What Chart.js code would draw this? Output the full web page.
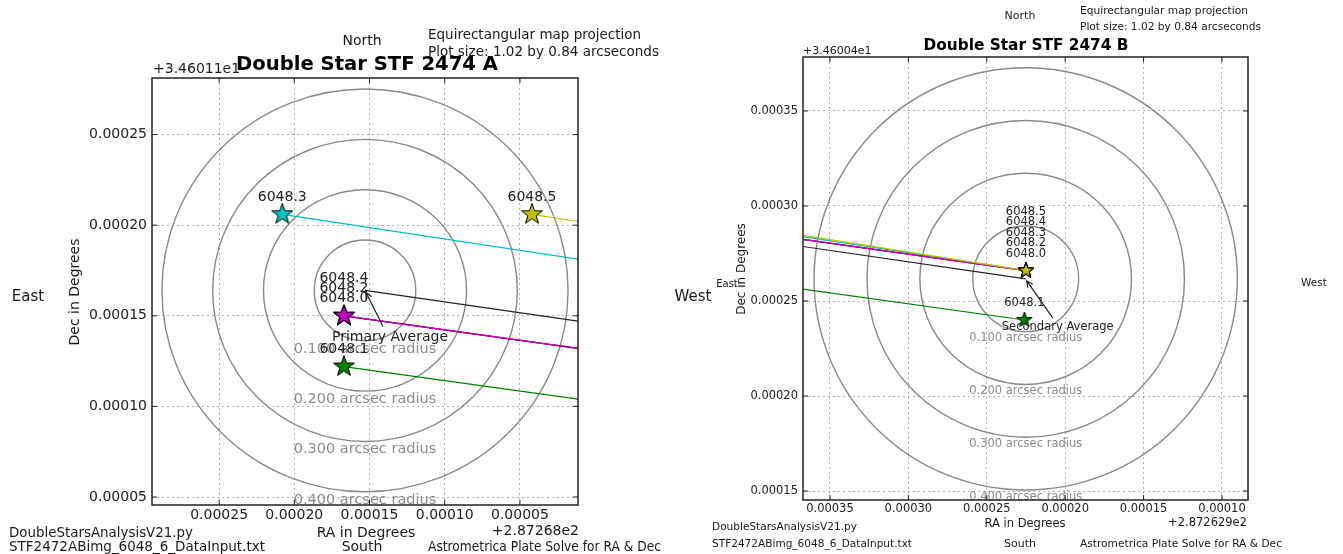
<!DOCTYPE html>
<html>
<head>
<meta charset="utf-8">
<title>Double Star STF 2474 A / B</title>
<script src="https://cdn.jsdelivr.net/npm/chart.js@4.4.0/dist/chart.umd.min.js"></script>
<style>
    html, body { margin: 0; padding: 0; background: #fff; }
    .stage { position: relative; width: 1343px; height: 554px; overflow: hidden; }
    .stage canvas { position: absolute; left: 0; top: 0; }
</style>
</head>
<body>
<div class="stage">
    <canvas id="chart-a" width="1343" height="554"></canvas>
    <canvas id="chart-b" width="1343" height="554"></canvas>
</div>
<script>
// Star measurements (one per image)
const starNames = ['6048.0', '6048.1', '6048.2', '6048.3', '6048.4', '6048.5'];

// Primary (A) positions, offsets from +2.87268e2 / +3.46011e1 degrees
const primaryRA = [0.000167, 0.000167, 0.000167, 0.000208, 0.000167, 0.000042];
const primaryDec = [0.000150, 0.000122, 0.000150, 0.000206, 0.000150, 0.000206];

// Secondary (B) positions, offsets from +2.872629e2 / +3.46004e1 degrees
const secondaryRA = [0.000225, 0.000226, 0.000225, 0.000225, 0.000225, 0.000225];
const secondaryDec = [0.000266, 0.000240, 0.000266, 0.000266, 0.000266, 0.000266];

// Axis offsets [A, B]
const raOffsets = [287.268, 287.2629];
const decOffsets = [34.6011, 34.6004];

// Rings around the averages, arcseconds
const radiiArcsec = [0.1, 0.2, 0.3, 0.4];

// Axis ranges and ticks
const raRangeA = [0.0000114, 0.0002946];
const decRangeA = [0.0000456, 0.0002812];
const raRangeB = [0.0000834, 0.0003672];
const decRangeB = [0.0001453, 0.0003784];
const raTicksA = [0.00025, 0.00020, 0.00015, 0.00010, 0.00005];
const decTicksA = [0.00005, 0.00010, 0.00015, 0.00020, 0.00025];
const raTicksB = [0.00035, 0.00030, 0.00025, 0.00020, 0.00015, 0.00010];
const decTicksB = [0.00015, 0.00020, 0.00025, 0.00030, 0.00035];

// Styles
const starColors = ['#0000ff', '#008000', '#ff0000', '#00bfbf', '#bf00bf', '#bfbf00'];
const FONT = '"DejaVu Sans", sans-serif';
const TEXT = '#1a1a1a';

Chart.defaults.font.family = FONT;

// Helpers
function mean(arr) {
    return arr.reduce((a, b) => a + b, 0) / arr.length;
}

function starImage(color, r) {
    const c = document.createElement('canvas');
    const s = Math.ceil(r * 2 + 4);
    c.width = s;
    c.height = s;
    const g = c.getContext('2d');
    g.beginPath();
    for (let i = 0; i < 10; i++) {
        const ang = -Math.PI / 2 + i * Math.PI / 5;
        const rr = i % 2 ? r * 0.4 : r;
        g.lineTo(s / 2 + rr * Math.cos(ang), s / 2 + rr * Math.sin(ang));
    }
    g.closePath();
    g.fillStyle = color;
    g.fill();
    g.lineWidth = 1;
    g.strokeStyle = '#000';
    g.stroke();
    return c;
}

function drawText(ctx, t) {
    ctx.save();
    ctx.font = t.font + ' ' + FONT;
    ctx.fillStyle = t.color || TEXT;
    ctx.textAlign = t.align || 'left';
    ctx.textBaseline = t.baseline || 'middle';
    ctx.translate(t.x, t.y);
    if (t.rotate) ctx.rotate(-Math.PI / 2);
    if (t.width) ctx.fillText(t.text, 0, 0, t.width);
    else ctx.fillText(t.text, 0, 0);
    ctx.restore();
}

function drawArrow(ctx, x1, y1, x2, y2) {
    const ang = Math.atan2(y2 - y1, x2 - x1);
    const head = 7;
    ctx.save();
    ctx.strokeStyle = '#222';
    ctx.lineWidth = 1.2;
    ctx.beginPath();
    ctx.moveTo(x1, y1);
    ctx.lineTo(x2, y2);
    ctx.moveTo(x2 - head * Math.cos(ang - 0.45), y2 - head * Math.sin(ang - 0.45));
    ctx.lineTo(x2, y2);
    ctx.lineTo(x2 - head * Math.cos(ang + 0.45), y2 - head * Math.sin(ang + 0.45));
    ctx.stroke();
    ctx.restore();
}

// Panel setup
const panels = [
    {
        id: 'chart-a',
        ra: primaryRA,
        dec: primaryDec,
        otherRA: secondaryRA.map(v => v + raOffsets[1] - raOffsets[0]),
        otherDec: secondaryDec.map(v => v + decOffsets[1] - decOffsets[0]),
        raRange: raRangeA,
        decRange: decRangeA,
        raTicks: raTicksA,
        decTicks: decTicksA,
        decBase: decOffsets[0],
        area: { left: 152, top: 78, right: 578, bottom: 505 },
        tickSize: 14,
        labelSize: 14,
        ringSize: 14.5,
        starR: 11,
        lift: 17,
        step: 10,
        avgText: 'Primary Average',
        avgOffset: [25, 47],
        avgFrom: [-7, -11],
        avgFont: '14px',
        texts: [
            { text: 'North', x: 362, y: 41, font: '14px', align: 'center' },
            { text: 'Equirectangular map projection', x: 428, y: 35, font: '14px', width: 213 },
            { text: 'Plot size: 1.02 by 0.84 arcseconds', x: 428, y: 52, font: '14px', width: 231 },
            { text: '+3.46011e1', x: 153, y: 69, font: '14px' },
            { text: 'Double Star STF 2474 A', x: 367, y: 65, font: 'bold 20px', align: 'center', width: 262, color: '#000' },
            { text: 'East', x: 28, y: 297, font: '15px', align: 'center' },
            { text: 'West', x: 693, y: 297, font: '15px', align: 'center' },
            { text: 'Dec in Degrees', x: 75, y: 292, font: '14px', align: 'center', rotate: true },
            { text: 'RA in Degrees', x: 366, y: 533, font: '14px', align: 'center' },
            { text: '+2.87268e2', x: 579, y: 531, font: '14px', align: 'right' },
            { text: 'DoubleStarsAnalysisV21.py', x: 9, y: 533, font: '14px', width: 184 },
            { text: 'STF2472ABimg_6048_6_DataInput.txt', x: 9, y: 547, font: '14px', width: 256 },
            { text: 'South', x: 362, y: 547, font: '14px', align: 'center' },
            { text: 'Astrometrica Plate Solve for RA & Dec', x: 428, y: 547, font: '14px', width: 233 }
        ]
    },
    {
        id: 'chart-b',
        ra: secondaryRA,
        dec: secondaryDec,
        otherRA: primaryRA.map(v => v + raOffsets[0] - raOffsets[1]),
        otherDec: primaryDec.map(v => v + decOffsets[0] - decOffsets[1]),
        raRange: raRangeB,
        decRange: decRangeB,
        raTicks: raTicksB,
        decTicks: decTicksB,
        decBase: decOffsets[1],
        area: { left: 803, top: 57, right: 1248, bottom: 500 },
        tickSize: 11.5,
        labelSize: 11.5,
        ringSize: 11.5,
        starR: 8,
        lift: 17,
        step: 10.5,
        avgText: 'Secondary Average',
        avgOffset: [32, 48],
        avgFrom: [-5, -9],
        avgFont: '11.5px',
        texts: [
            { text: 'North', x: 1020, y: 16, font: '11px', align: 'center' },
            { text: 'Equirectangular map projection', x: 1080, y: 11, font: '11px', width: 168 },
            { text: 'Plot size: 1.02 by 0.84 arcseconds', x: 1080, y: 27, font: '11px', width: 181 },
            { text: '+3.46004e1', x: 803, y: 51, font: '11px', width: 70 },
            { text: 'Double Star STF 2474 B', x: 1026, y: 46, font: 'bold 15.5px', align: 'center', width: 205, color: '#000' },
            { text: 'East', x: 727, y: 284, font: '10px', align: 'center' },
            { text: 'West', x: 1314, y: 283, font: '10.5px', align: 'center' },
            { text: 'Dec in Degrees', x: 742, y: 269, font: '12px', align: 'center', rotate: true },
            { text: 'RA in Degrees', x: 1025, y: 524, font: '11.5px', align: 'center' },
            { text: '+2.872629e2', x: 1247, y: 523, font: '11.5px', align: 'right' },
            { text: 'DoubleStarsAnalysisV21.py', x: 712, y: 527, font: '11px', width: 145 },
            { text: 'STF2472ABimg_6048_6_DataInput.txt', x: 712, y: 544, font: '11px', width: 200 },
            { text: 'South', x: 1020, y: 544, font: '11px', align: 'center' },
            { text: 'Astrometrica Plate Solve for RA & Dec', x: 1080, y: 544, font: '11px', width: 202 }
        ]
    }
];

// Overlay plugin: rings, star labels, average arrow, frame and page texts
function makeOverlay(p) {
    const avgRA = mean(p.ra);
    const avgDec = mean(p.dec);
    const cosDec = Math.cos(p.decBase * Math.PI / 180);

    return {
        id: 'overlay-' + p.id,
        beforeDatasetsDraw(chart) {
            const { ctx, chartArea, scales: { x, y } } = chart;
            const cx = x.getPixelForValue(avgRA);
            const cy = y.getPixelForValue(avgDec);
            ctx.save();
            ctx.beginPath();
            ctx.rect(chartArea.left, chartArea.top, chartArea.right - chartArea.left, chartArea.bottom - chartArea.top);
            ctx.clip();
            radiiArcsec.forEach(r => {
                const deg = r / 3600;
                const rx = Math.abs(x.getPixelForValue(avgRA + deg / cosDec) - cx);
                const ry = Math.abs(y.getPixelForValue(avgDec - deg) - cy);
                ctx.beginPath();
                ctx.ellipse(cx, cy, rx, ry, 0, 0, Math.PI * 2);
                ctx.strokeStyle = '#8a8a8a';
                ctx.lineWidth = 1.4;
                ctx.stroke();
                drawText(ctx, {
                    text: r.toFixed(3) + ' arcsec radius',
                    x: cx, y: cy + ry + 1,
                    font: p.ringSize + 'px', align: 'center', baseline: 'top', color: '#8c8c8c'
                });
            });
            ctx.restore();
        },
        afterDatasetsDraw(chart) {
            const { ctx, chartArea, scales: { x, y } } = chart;

            // star labels, stacked when positions coincide
            starNames.forEach((name, i) => {
                let k = 0;
                for (let j = 0; j < i; j++) {
                    if (p.ra[j] === p.ra[i] && p.dec[j] === p.dec[i]) k++;
                }
                const px = x.getPixelForValue(p.ra[i]);
                const py = y.getPixelForValue(p.dec[i]);
                drawText(ctx, { text: name, x: px, y: py - p.lift - k * p.step, font: p.labelSize + 'px', align: 'center', color: '#222' });
            });

            // average annotation
            const ax = x.getPixelForValue(avgRA);
            const ay = y.getPixelForValue(avgDec);
            const tx = ax + p.avgOffset[0];
            const ty = ay + p.avgOffset[1];
            drawArrow(ctx, tx + p.avgFrom[0], ty + p.avgFrom[1], ax + 1, ay + 2);
            drawText(ctx, { text: p.avgText, x: tx, y: ty, font: p.avgFont, align: 'center', color: '#222' });

            // frame with inward ticks
            ctx.save();
            ctx.strokeStyle = '#222';
            ctx.lineWidth = 1.5;
            ctx.strokeRect(chartArea.left, chartArea.top, chartArea.right - chartArea.left, chartArea.bottom - chartArea.top);
            ctx.lineWidth = 1;
            ctx.beginPath();
            x.ticks.forEach(t => {
                const px = x.getPixelForValue(t.value);
                ctx.moveTo(px, chartArea.bottom); ctx.lineTo(px, chartArea.bottom - 5);
                ctx.moveTo(px, chartArea.top); ctx.lineTo(px, chartArea.top + 5);
            });
            y.ticks.forEach(t => {
                const py = y.getPixelForValue(t.value);
                ctx.moveTo(chartArea.left, py); ctx.lineTo(chartArea.left + 5, py);
                ctx.moveTo(chartArea.right, py); ctx.lineTo(chartArea.right - 5, py);
            });
            ctx.stroke();
            ctx.restore();
        },
        afterDraw(chart) {
            p.texts.forEach(t => drawText(chart.ctx, t));
        }
    };
}

// Build datasets for one panel
function buildDatasets(p) {
    const sets = [];

    // connection lines toward the companion
    starNames.forEach((name, i) => {
        sets.push({
            label: name + ' link',
            data: [{ x: p.ra[i], y: p.dec[i] }, { x: p.otherRA[i], y: p.otherDec[i] }],
            showLine: true,
            borderColor: starColors[i],
            borderWidth: 1.2,
            pointRadius: 0,
            order: 30 - i
        });
    });
    sets.push({
        label: 'average link',
        data: [{ x: mean(p.ra), y: mean(p.dec) }, { x: mean(p.otherRA), y: mean(p.otherDec) }],
        showLine: true,
        borderColor: '#222',
        borderWidth: 1.2,
        pointRadius: 0,
        order: 20
    });

    // stars
    starNames.forEach((name, i) => {
        sets.push({
            label: name,
            data: [{ x: p.ra[i], y: p.dec[i] }],
            pointStyle: starImage(starColors[i], p.starR),
            pointRadius: p.starR,
            order: 10 - i
        });
    });
    return sets;
}

// Render one panel
function renderPanel(p) {
    const W = 1343, H = 554;
    const a = p.area;
    const axisWidth = p.id === 'chart-a' ? 152 : 123;
    const tickFont = { family: FONT, size: p.tickSize };
    const useTicks = values => scale => { scale.ticks = values.map(v => ({ value: v })); };

    new Chart(document.getElementById(p.id), {
        type: 'scatter',
        data: { datasets: buildDatasets(p) },
        options: {
            responsive: false,
            animation: false,
            events: [],
            layout: { padding: { left: a.left - axisWidth, top: a.top, right: W - a.right, bottom: 0 } },
            scales: {
                x: {
                    type: 'linear',
                    reverse: true,
                    bounds: 'data',
                    min: p.raRange[0],
                    max: p.raRange[1],
                    afterBuildTicks: useTicks(p.raTicks),
                    afterFit: s => { s.height = H - a.bottom; },
                    ticks: {
                        autoSkip: false,
                        maxRotation: 0,
                        padding: 2,
                        color: '#222',
                        font: tickFont,
                        callback: v => v.toFixed(5)
                    },
                    grid: { color: '#b0b0b0', lineWidth: 1, drawTicks: false },
                    border: { display: false, dash: [2, 3] }
                },
                y: {
                    type: 'linear',
                    bounds: 'data',
                    min: p.decRange[0],
                    max: p.decRange[1],
                    afterBuildTicks: useTicks(p.decTicks),
                    afterFit: s => { s.width = axisWidth; },
                    ticks: {
                        autoSkip: false,
                        padding: 5,
                        color: '#222',
                        font: tickFont,
                        callback: v => v.toFixed(5)
                    },
                    grid: { color: '#b0b0b0', lineWidth: 1, drawTicks: false },
                    border: { display: false, dash: [2, 3] }
                }
            },
            plugins: {
                legend: { display: false },
                tooltip: { enabled: false }
            }
        },
        plugins: [makeOverlay(p)]
    });
}

panels.forEach(renderPanel);
</script>
</body>
</html>
